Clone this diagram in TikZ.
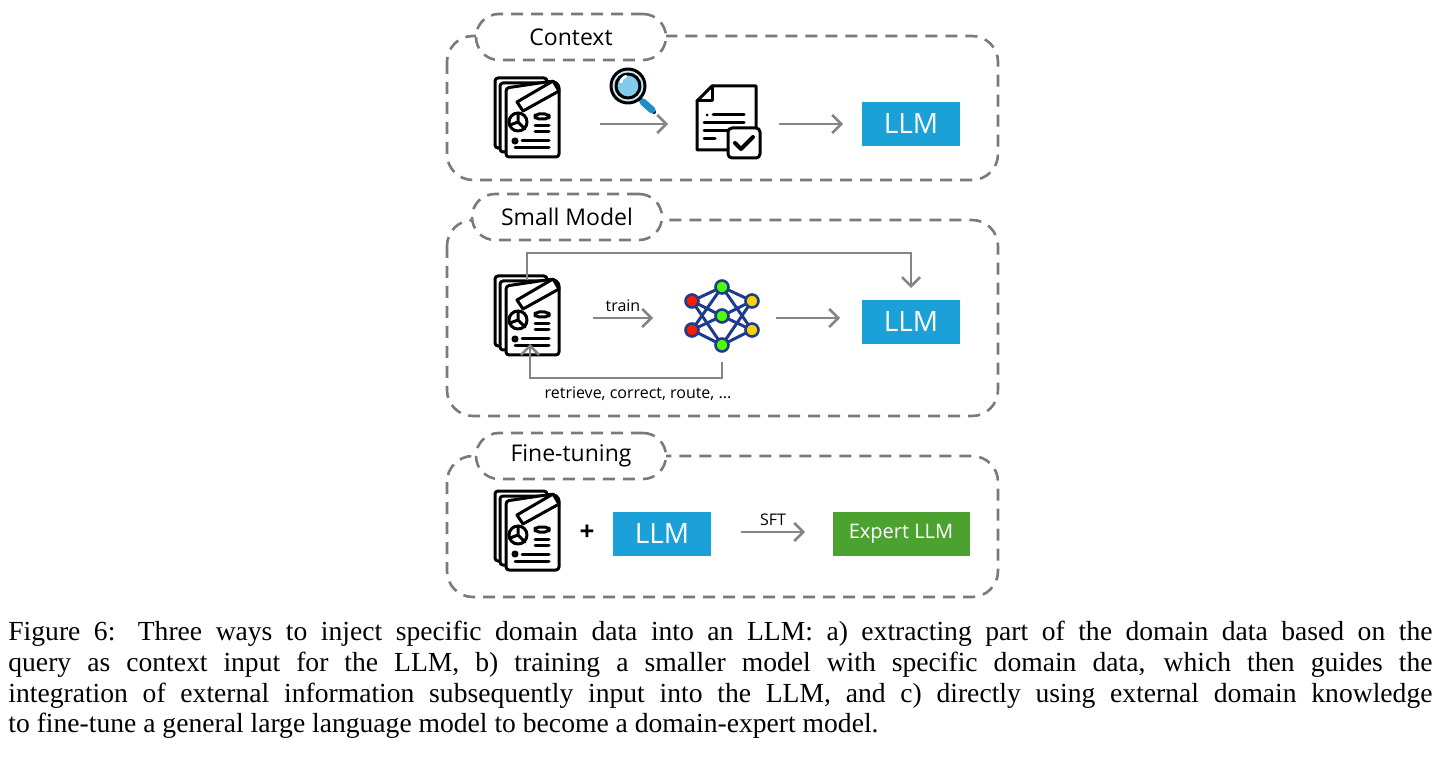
\documentclass[tikz,border=0pt]{standalone}
\usepackage{fontspec}
\usetikzlibrary{arrows.meta}
\setmainfont{Liberation Serif}
\newfontfamily\osans{Open Sans}
\definecolor{llmblue}{HTML}{1BA1D8}
\definecolor{expgreen}{HTML}{4CA22F}
\definecolor{dgray}{HTML}{7A7A7A}
\definecolor{agray}{HTML}{858585}
\definecolor{nblue}{HTML}{1F3C8C}
\begin{document}
\begin{tikzpicture}[x=0.5pt,y=-0.5pt,
  panel/.style={draw=dgray,line width=1.3pt,dash pattern=on 6pt off 4pt,rounded corners=13pt},
  bubble/.style={draw=dgray,line width=1.3pt,dash pattern=on 6pt off 4pt,fill=white,rounded corners=11.5pt,minimum width=95pt,minimum height=23pt,font=\osans\fontsize{11.5}{12}\selectfont},
  llm/.style={fill=llmblue,text=white,minimum width=49pt,minimum height=22pt,font=\osans\fontsize{14}{14}\selectfont,inner sep=0},
  arr/.style={draw=agray,line width=1.3pt,-{Straight Barb[length=4.5pt,width=9pt]}},
  ico/.style={line width=1.5pt,line join=round,line cap=round},
  lbl/.style={font=\osans\fontsize{8}{9}\selectfont}]
\useasboundingbox (0,0) rectangle (1440,764);
\tikzset{docs/.pic={
  \draw[ico,fill=white,rounded corners=1.5pt] (-32,-37) rectangle (20,33);
  \draw[ico,fill=white,rounded corners=1.5pt] (-27,-32) rectangle (26,37);
  \draw[ico,fill=white,rounded corners=1.5pt] (-21,-27) -- (-21,42) -- (32,42) -- (32,-30) -- (26,-34) -- cycle;
  \draw[ico,fill=white] (-10,-13) -- (26,-34) -- (32,-24) -- (-4,-4) -- cycle;
  \draw[ico] (-9,7) circle (9);
  \draw[ico] (-17,10) -- (-9,7) -- (-2,14) (-9,7)--(-9,-2);
  \draw[ico,rounded corners=2pt] (8,-1) rectangle (22,4);
  \draw[ico] (8,11)--(22,11) (8,17)--(22,17);
  \draw[ico] (-12,26) circle (2);
  \draw[ico] (-5,26)--(22,26) (-12,33)--(22,33);
}}
% panels
\draw[panel] (447,36) rectangle (998,180);
\draw[panel] (447,220) rectangle (998,416);
\draw[panel] (447,456) rectangle (998,597);
\node[bubble] (b1) at (571,37) {Context};
\node[bubble] (b2) at (567,217) {Small Model};
\node[bubble] (b3) at (571,456) {Fine-tuning};
% row 1
\pic at (527,115) {docs};
\coordinate (d1) at (600,124);
\coordinate (cd) at (668,124);
% magnifier
\draw[ico,line width=2pt] (640,99) -- (654,112);
\draw[line width=3.5pt,draw=llmblue!80!nblue,line cap=round] (643,102) -- (652,110);
\draw[ico,fill=llmblue!25] (628,86) circle (17);
\draw[ico,fill=llmblue!55!white] (628,86) circle (12);
\draw[white,line width=1.3pt] (621,83) arc (180:260:7);
% checked doc
\draw[ico,fill=white] (712,86) -- (756,86) -- (756,150) -- (697,150) -- (697,101) -- cycle;
\draw[ico] (712,86) -- (712,101) -- (697,101);
\draw[ico] (707,115)--(707,115) (713,115)--(744,115) (704,123)--(744,123) (704,131)--(731,131) (704,139)--(715,139);
\draw[ico,fill=white,rounded corners=2pt] (728,128) rectangle (760,158);
\draw[ico,line width=2pt] (735,143) -- (741,149) -- (753,137);
\node[llm] (L1) at (911,124) {LLM};
\draw[arr] (d1) -- (cd);
\coordinate (c1) at (779,124);
\coordinate (c2) at (843,124);
\draw[arr] (c1) -- (c2);
% row 2
\pic at (527,313) {docs};
\coordinate (t1) at (593,318);
\coordinate (t2) at (653,318);
\draw[arr] (t1) -- node[lbl,above=-1pt] {train} (t2);
% neural net
\foreach \n/\x/\y in {a/692/301, b/692/330, c/722/287, d/722/316, e/722/345, f/752/301, g/752/330}
  \coordinate (n\n) at (\x,\y);
\foreach \u/\v in {a/c,a/d,a/e,b/c,b/d,b/e,f/c,f/d,f/e,g/c,g/d,g/e}
  \draw[nblue,line width=1.5pt] (n\u) -- (n\v);
\foreach \n/\c in {a/red!80!orange, b/red!80!orange, c/green!60!lime, d/green!60!lime, e/green!60!lime, f/yellow!70!orange, g/yellow!70!orange}
  \draw[nblue,line width=1.3pt,fill=\c] (n\n) circle (6.5);
\node[llm] (L2) at (911,322) {LLM};
\coordinate (nn) at (776,318);
\coordinate (nn2) at (840,318);
\draw[arr] (nn) -- (nn2);
\coordinate (ds) at (527,280);
\coordinate (lt) at (911,288);
\draw[arr] (ds) |- (911,253) -- (lt);
\coordinate (nb) at (722,362);
\coordinate (db) at (530,344);
\draw[arr] (nb) |- (530,378) -- (db);
\node[lbl] (rl) at (638,394) {retrieve, correct, route, ...};
% row 3
\pic at (527,528) {docs};
\node[font=\osans\bfseries\fontsize{13}{13}\selectfont] (plus) at (587,533) {+};
\node[llm] (L3) at (662,534) {LLM};
\coordinate (s1) at (741,532);
\coordinate (s2) at (805,532);
\node[fill=expgreen,text=white,minimum width=68.5pt,minimum height=22pt,inner sep=0,font=\osans\fontsize{10}{10}\selectfont] (E) at (901,534) {Expert LLM};
\draw[arr] (s1) -- node[lbl,above=-1pt] {SFT} (s2);
% caption
\node[anchor=north west,inner sep=0,text width=712pt,align=justify,font=\fontsize{13.8}{15.3}\selectfont] (cap) at (8,621) {Figure 6: Three ways to inject specific domain data into an LLM: a) extracting part of the domain data based on the\linebreak query as context input for the LLM, b) training a smaller model with specific domain data, which then guides the\linebreak integration of external information subsequently input into the LLM, and c) directly using external domain knowledge\linebreak to fine-tune a general large language model to become a domain-expert model.};
\end{tikzpicture}
\end{document}
